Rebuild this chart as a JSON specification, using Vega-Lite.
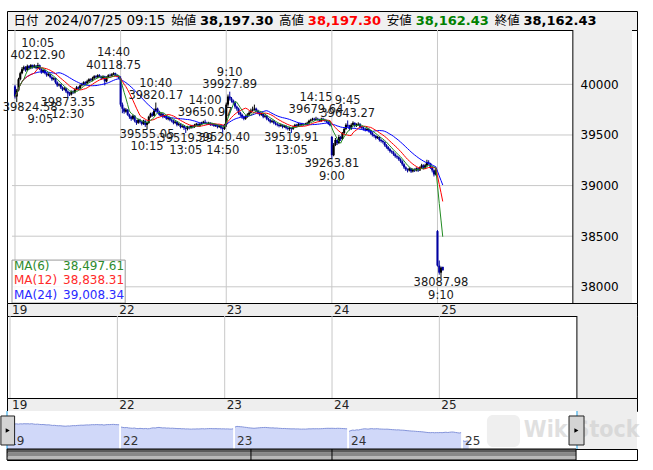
{
"$schema":"https://vega.github.io/schema/vega-lite/v6.json",
"background":"#ffffff",
"padding":{"left":0,"top":10,"right":0,"bottom":0},
"autosize":{"type":"pad"},
"bounds":"flush",
"spacing":0,
"config":{"view":{"stroke":"#000000","strokeWidth":1},"font":"DejaVu Sans"},
"resolve":{"scale":{"x":"independent","y":"independent","color":"independent"}},
"datasets":{
"one":[{"n":1}],
"levels":[{"g":38000},{"g":38500},{"g":39000},{"g":39500},{"g":40000}],
"days":[{"i":0,"d":"19"},{"i":60,"d":"22"},{"i":120,"d":"23"},{"i":180,"d":"24"},{"i":240,"d":"25"}],
"hdr":[{"k":"日付","v":"2024/07/25 09:15"},{"k":"始値","v":"38,197.30"},{"k":"高値","v":"38,197.30"},{"k":"安値","v":"38,162.43"},{"k":"終値","v":"38,162.43"}],
"leg":[{"k":"ma6","lab":"MA(6)","val":"38,497.61"},{"k":"ma12","lab":"MA(12)","val":"38,838.31"},{"k":"ma24","lab":"MA(24)","val":"39,008.34"}],
"ann":[
{"i":13,"v":40212.90,"t":"10:05","kind":"high"},
{"i":56,"v":40118.75,"t":"14:40","kind":"high"},
{"i":80,"v":39820.17,"t":"10:40","kind":"high"},
{"i":108,"v":39650.97,"t":"14:00","kind":"high"},
{"i":122,"v":39927.89,"t":"9:10","kind":"high"},
{"i":171,"v":39679.64,"t":"14:15","kind":"high"},
{"i":189,"v":39643.27,"t":"9:45","kind":"high"},
{"i":1,"v":39824.58,"t":"9:05","kind":"low"},
{"i":30,"v":39873.35,"t":"12:30","kind":"low"},
{"i":75,"v":39555.05,"t":"10:15","kind":"low"},
{"i":97,"v":39519.39,"t":"13:05","kind":"low"},
{"i":118,"v":39520.40,"t":"14:50","kind":"low"},
{"i":157,"v":39519.91,"t":"13:05","kind":"low"},
{"i":180,"v":39263.81,"t":"9:00","kind":"low"},
{"i":242,"v":38087.98,"t":"9:10","kind":"low"}],
"bars":[
{"i":0,"d":19,"o":39980,"h":39995,"l":39860,"c":39880},
{"i":1,"d":19,"o":39880,"h":39955,"l":39824.58,"c":39940},
{"i":2,"d":19,"o":39940,"h":40065,"l":39930,"c":40050},
{"i":3,"d":19,"o":40050,"h":40125,"l":40040,"c":40110},
{"i":4,"d":19,"o":40110,"h":40170,"l":40100,"c":40150},
{"i":5,"d":19,"o":40150,"h":40185,"l":40135,"c":40170},
{"i":6,"d":19,"o":40170,"h":40180,"l":40125,"c":40140},
{"i":7,"d":19,"o":40140,"h":40195,"l":40130,"c":40180},
{"i":8,"d":19,"o":40180,"h":40190,"l":40145,"c":40160},
{"i":9,"d":19,"o":40160,"h":40200,"l":40150,"c":40190},
{"i":10,"d":19,"o":40190,"h":40195,"l":40155,"c":40170},
{"i":11,"d":19,"o":40170,"h":40198,"l":40160,"c":40185},
{"i":12,"d":19,"o":40185,"h":40190,"l":40150,"c":40160},
{"i":13,"d":19,"o":40160,"h":40212.9,"l":40155,"c":40190},
{"i":14,"d":19,"o":40190,"h":40195,"l":40140,"c":40150},
{"i":15,"d":19,"o":40150,"h":40160,"l":40105,"c":40120},
{"i":16,"d":19,"o":40120,"h":40150,"l":40110,"c":40140},
{"i":17,"d":19,"o":40140,"h":40145,"l":40100,"c":40110},
{"i":18,"d":19,"o":40110,"h":40120,"l":40075,"c":40090},
{"i":19,"d":19,"o":40090,"h":40110,"l":40080,"c":40100},
{"i":20,"d":19,"o":40100,"h":40105,"l":40060,"c":40070},
{"i":21,"d":19,"o":40070,"h":40080,"l":40035,"c":40050},
{"i":22,"d":19,"o":40050,"h":40070,"l":40040,"c":40060},
{"i":23,"d":19,"o":40060,"h":40065,"l":40005,"c":40020},
{"i":24,"d":19,"o":40020,"h":40030,"l":39975,"c":39990},
{"i":25,"d":19,"o":39990,"h":40010,"l":39980,"c":40000},
{"i":26,"d":19,"o":40000,"h":40005,"l":39955,"c":39970},
{"i":27,"d":19,"o":39970,"h":39980,"l":39935,"c":39950},
{"i":28,"d":19,"o":39950,"h":39975,"l":39940,"c":39960},
{"i":29,"d":19,"o":39960,"h":39965,"l":39915,"c":39930},
{"i":30,"d":19,"o":39930,"h":39940,"l":39873.35,"c":39910},
{"i":31,"d":19,"o":39910,"h":39925,"l":39885,"c":39900},
{"i":32,"d":19,"o":39900,"h":39940,"l":39890,"c":39930},
{"i":33,"d":19,"o":39930,"h":39940,"l":39905,"c":39920},
{"i":34,"d":19,"o":39920,"h":39960,"l":39910,"c":39950},
{"i":35,"d":19,"o":39950,"h":39985,"l":39940,"c":39970},
{"i":36,"d":19,"o":39970,"h":39980,"l":39945,"c":39960},
{"i":37,"d":19,"o":39960,"h":40000,"l":39950,"c":39990},
{"i":38,"d":19,"o":39990,"h":40015,"l":39980,"c":40000},
{"i":39,"d":19,"o":40000,"h":40030,"l":39990,"c":40020},
{"i":40,"d":19,"o":40020,"h":40030,"l":39995,"c":40010},
{"i":41,"d":19,"o":40010,"h":40045,"l":40000,"c":40030},
{"i":42,"d":19,"o":40030,"h":40060,"l":40020,"c":40050},
{"i":43,"d":19,"o":40050,"h":40060,"l":40030,"c":40040},
{"i":44,"d":19,"o":40040,"h":40075,"l":40030,"c":40060},
{"i":45,"d":19,"o":40060,"h":40090,"l":40050,"c":40080},
{"i":46,"d":19,"o":40080,"h":40090,"l":40060,"c":40070},
{"i":47,"d":19,"o":40070,"h":40100,"l":40060,"c":40090},
{"i":48,"d":19,"o":40090,"h":40100,"l":40070,"c":40080},
{"i":49,"d":19,"o":40080,"h":40085,"l":40045,"c":40060},
{"i":50,"d":19,"o":40060,"h":40090,"l":40050,"c":40080},
{"i":51,"d":19,"o":40080,"h":40085,"l":39990,"c":40030},
{"i":52,"d":19,"o":40030,"h":40080,"l":40020,"c":40070},
{"i":53,"d":19,"o":40070,"h":40100,"l":40060,"c":40090},
{"i":54,"d":19,"o":40090,"h":40105,"l":40075,"c":40085},
{"i":55,"d":19,"o":40085,"h":40110,"l":40080,"c":40100},
{"i":56,"d":19,"o":40100,"h":40118.75,"l":40090,"c":40110},
{"i":57,"d":19,"o":40110,"h":40115,"l":40080,"c":40090},
{"i":58,"d":19,"o":40090,"h":40100,"l":40070,"c":40080},
{"i":59,"d":19,"o":40080,"h":40090,"l":40050,"c":40064},
{"i":60,"d":22,"o":40060,"h":40080,"l":39780,"c":39800},
{"i":61,"d":22,"o":39800,"h":39820,"l":39715,"c":39760},
{"i":62,"d":22,"o":39760,"h":39770,"l":39710,"c":39730},
{"i":63,"d":22,"o":39730,"h":39765,"l":39720,"c":39750},
{"i":64,"d":22,"o":39750,"h":39755,"l":39690,"c":39700},
{"i":65,"d":22,"o":39700,"h":39710,"l":39660,"c":39680},
{"i":66,"d":22,"o":39680,"h":39690,"l":39640,"c":39660},
{"i":67,"d":22,"o":39660,"h":39700,"l":39650,"c":39690},
{"i":68,"d":22,"o":39690,"h":39695,"l":39625,"c":39640},
{"i":69,"d":22,"o":39640,"h":39650,"l":39600,"c":39620},
{"i":70,"d":22,"o":39620,"h":39660,"l":39610,"c":39650},
{"i":71,"d":22,"o":39650,"h":39660,"l":39615,"c":39630},
{"i":72,"d":22,"o":39630,"h":39640,"l":39595,"c":39610},
{"i":73,"d":22,"o":39610,"h":39650,"l":39600,"c":39640},
{"i":74,"d":22,"o":39640,"h":39645,"l":39580,"c":39600},
{"i":75,"d":22,"o":39600,"h":39630,"l":39555.05,"c":39620},
{"i":76,"d":22,"o":39620,"h":39690,"l":39610,"c":39680},
{"i":77,"d":22,"o":39680,"h":39720,"l":39670,"c":39710},
{"i":78,"d":22,"o":39710,"h":39725,"l":39680,"c":39690},
{"i":79,"d":22,"o":39690,"h":39760,"l":39685,"c":39740},
{"i":80,"d":22,"o":39740,"h":39820.17,"l":39730,"c":39760},
{"i":81,"d":22,"o":39760,"h":39770,"l":39720,"c":39730},
{"i":82,"d":22,"o":39730,"h":39740,"l":39690,"c":39700},
{"i":83,"d":22,"o":39700,"h":39720,"l":39685,"c":39710},
{"i":84,"d":22,"o":39710,"h":39715,"l":39665,"c":39680},
{"i":85,"d":22,"o":39680,"h":39700,"l":39670,"c":39690},
{"i":86,"d":22,"o":39690,"h":39695,"l":39650,"c":39660},
{"i":87,"d":22,"o":39660,"h":39680,"l":39645,"c":39670},
{"i":88,"d":22,"o":39670,"h":39675,"l":39635,"c":39650},
{"i":89,"d":22,"o":39650,"h":39660,"l":39625,"c":39640},
{"i":90,"d":22,"o":39640,"h":39650,"l":39605,"c":39620},
{"i":91,"d":22,"o":39620,"h":39645,"l":39610,"c":39630},
{"i":92,"d":22,"o":39630,"h":39635,"l":39585,"c":39600},
{"i":93,"d":22,"o":39600,"h":39620,"l":39590,"c":39610},
{"i":94,"d":22,"o":39610,"h":39615,"l":39565,"c":39580},
{"i":95,"d":22,"o":39580,"h":39600,"l":39570,"c":39590},
{"i":96,"d":22,"o":39590,"h":39595,"l":39550,"c":39570},
{"i":97,"d":22,"o":39570,"h":39580,"l":39519.39,"c":39560},
{"i":98,"d":22,"o":39560,"h":39590,"l":39545,"c":39580},
{"i":99,"d":22,"o":39580,"h":39590,"l":39555,"c":39570},
{"i":100,"d":22,"o":39570,"h":39600,"l":39560,"c":39590},
{"i":101,"d":22,"o":39590,"h":39600,"l":39565,"c":39580},
{"i":102,"d":22,"o":39580,"h":39610,"l":39570,"c":39600},
{"i":103,"d":22,"o":39600,"h":39620,"l":39590,"c":39610},
{"i":104,"d":22,"o":39610,"h":39615,"l":39580,"c":39590},
{"i":105,"d":22,"o":39590,"h":39620,"l":39580,"c":39610},
{"i":106,"d":22,"o":39610,"h":39630,"l":39600,"c":39620},
{"i":107,"d":22,"o":39620,"h":39640,"l":39610,"c":39630},
{"i":108,"d":22,"o":39630,"h":39650.97,"l":39610,"c":39620},
{"i":109,"d":22,"o":39620,"h":39630,"l":39600,"c":39610},
{"i":110,"d":22,"o":39610,"h":39630,"l":39600,"c":39620},
{"i":111,"d":22,"o":39620,"h":39625,"l":39590,"c":39600},
{"i":112,"d":22,"o":39600,"h":39620,"l":39590,"c":39610},
{"i":113,"d":22,"o":39610,"h":39615,"l":39580,"c":39590},
{"i":114,"d":22,"o":39590,"h":39610,"l":39580,"c":39600},
{"i":115,"d":22,"o":39600,"h":39605,"l":39565,"c":39580},
{"i":116,"d":22,"o":39580,"h":39600,"l":39570,"c":39590},
{"i":117,"d":22,"o":39590,"h":39595,"l":39555,"c":39570},
{"i":118,"d":22,"o":39570,"h":39580,"l":39520.4,"c":39560},
{"i":119,"d":22,"o":39560,"h":39610,"l":39550,"c":39599},
{"i":120,"d":23,"o":39600,"h":39820,"l":39580,"c":39800},
{"i":121,"d":23,"o":39800,"h":39900,"l":39780,"c":39880},
{"i":122,"d":23,"o":39880,"h":39927.89,"l":39840,"c":39860},
{"i":123,"d":23,"o":39860,"h":39875,"l":39820,"c":39840},
{"i":124,"d":23,"o":39840,"h":39850,"l":39800,"c":39820},
{"i":125,"d":23,"o":39820,"h":39830,"l":39760,"c":39780},
{"i":126,"d":23,"o":39780,"h":39790,"l":39740,"c":39760},
{"i":127,"d":23,"o":39760,"h":39770,"l":39700,"c":39720},
{"i":128,"d":23,"o":39720,"h":39730,"l":39680,"c":39700},
{"i":129,"d":23,"o":39700,"h":39710,"l":39660,"c":39680},
{"i":130,"d":23,"o":39680,"h":39690,"l":39645,"c":39660},
{"i":131,"d":23,"o":39660,"h":39695,"l":39650,"c":39680},
{"i":132,"d":23,"o":39680,"h":39715,"l":39670,"c":39700},
{"i":133,"d":23,"o":39700,"h":39735,"l":39690,"c":39720},
{"i":134,"d":23,"o":39720,"h":39760,"l":39710,"c":39740},
{"i":135,"d":23,"o":39740,"h":39780,"l":39730,"c":39750},
{"i":136,"d":23,"o":39750,"h":39800,"l":39740,"c":39760},
{"i":137,"d":23,"o":39760,"h":39770,"l":39725,"c":39740},
{"i":138,"d":23,"o":39740,"h":39750,"l":39705,"c":39720},
{"i":139,"d":23,"o":39720,"h":39730,"l":39685,"c":39700},
{"i":140,"d":23,"o":39700,"h":39720,"l":39690,"c":39710},
{"i":141,"d":23,"o":39710,"h":39715,"l":39665,"c":39680},
{"i":142,"d":23,"o":39680,"h":39700,"l":39670,"c":39690},
{"i":143,"d":23,"o":39690,"h":39695,"l":39645,"c":39660},
{"i":144,"d":23,"o":39660,"h":39670,"l":39635,"c":39650},
{"i":145,"d":23,"o":39650,"h":39660,"l":39615,"c":39630},
{"i":146,"d":23,"o":39630,"h":39650,"l":39620,"c":39640},
{"i":147,"d":23,"o":39640,"h":39645,"l":39605,"c":39620},
{"i":148,"d":23,"o":39620,"h":39630,"l":39595,"c":39610},
{"i":149,"d":23,"o":39610,"h":39620,"l":39585,"c":39600},
{"i":150,"d":23,"o":39600,"h":39610,"l":39575,"c":39590},
{"i":151,"d":23,"o":39590,"h":39610,"l":39580,"c":39600},
{"i":152,"d":23,"o":39600,"h":39605,"l":39565,"c":39580},
{"i":153,"d":23,"o":39580,"h":39600,"l":39570,"c":39590},
{"i":154,"d":23,"o":39590,"h":39595,"l":39555,"c":39570},
{"i":155,"d":23,"o":39570,"h":39580,"l":39545,"c":39560},
{"i":156,"d":23,"o":39560,"h":39580,"l":39540,"c":39570},
{"i":157,"d":23,"o":39570,"h":39575,"l":39519.91,"c":39560},
{"i":158,"d":23,"o":39560,"h":39590,"l":39550,"c":39580},
{"i":159,"d":23,"o":39580,"h":39610,"l":39570,"c":39600},
{"i":160,"d":23,"o":39600,"h":39610,"l":39575,"c":39590},
{"i":161,"d":23,"o":39590,"h":39620,"l":39580,"c":39610},
{"i":162,"d":23,"o":39610,"h":39620,"l":39590,"c":39600},
{"i":163,"d":23,"o":39600,"h":39620,"l":39590,"c":39610},
{"i":164,"d":23,"o":39610,"h":39615,"l":39590,"c":39600},
{"i":165,"d":23,"o":39600,"h":39620,"l":39595,"c":39610},
{"i":166,"d":23,"o":39610,"h":39630,"l":39600,"c":39620},
{"i":167,"d":23,"o":39620,"h":39650,"l":39610,"c":39640},
{"i":168,"d":23,"o":39640,"h":39660,"l":39630,"c":39650},
{"i":169,"d":23,"o":39650,"h":39670,"l":39640,"c":39660},
{"i":170,"d":23,"o":39660,"h":39670,"l":39640,"c":39650},
{"i":171,"d":23,"o":39650,"h":39679.64,"l":39645,"c":39660},
{"i":172,"d":23,"o":39660,"h":39670,"l":39640,"c":39650},
{"i":173,"d":23,"o":39650,"h":39660,"l":39630,"c":39640},
{"i":174,"d":23,"o":39640,"h":39670,"l":39630,"c":39660},
{"i":175,"d":23,"o":39660,"h":39670,"l":39640,"c":39650},
{"i":176,"d":23,"o":39650,"h":39660,"l":39630,"c":39640},
{"i":177,"d":23,"o":39640,"h":39650,"l":39620,"c":39630},
{"i":178,"d":23,"o":39630,"h":39640,"l":39600,"c":39610},
{"i":179,"d":23,"o":39610,"h":39620,"l":39585,"c":39594},
{"i":180,"d":24,"o":39480,"h":39490,"l":39263.81,"c":39300},
{"i":181,"d":24,"o":39300,"h":39420,"l":39290,"c":39400},
{"i":182,"d":24,"o":39400,"h":39470,"l":39390,"c":39450},
{"i":183,"d":24,"o":39450,"h":39460,"l":39400,"c":39420},
{"i":184,"d":24,"o":39420,"h":39500,"l":39410,"c":39480},
{"i":185,"d":24,"o":39480,"h":39490,"l":39440,"c":39460},
{"i":186,"d":24,"o":39460,"h":39530,"l":39450,"c":39520},
{"i":187,"d":24,"o":39520,"h":39575,"l":39510,"c":39560},
{"i":188,"d":24,"o":39560,"h":39615,"l":39550,"c":39600},
{"i":189,"d":24,"o":39600,"h":39643.27,"l":39575,"c":39590},
{"i":190,"d":24,"o":39590,"h":39600,"l":39545,"c":39560},
{"i":191,"d":24,"o":39560,"h":39615,"l":39550,"c":39600},
{"i":192,"d":24,"o":39600,"h":39635,"l":39590,"c":39620},
{"i":193,"d":24,"o":39620,"h":39625,"l":39575,"c":39590},
{"i":194,"d":24,"o":39590,"h":39615,"l":39580,"c":39600},
{"i":195,"d":24,"o":39600,"h":39625,"l":39590,"c":39610},
{"i":196,"d":24,"o":39610,"h":39615,"l":39565,"c":39580},
{"i":197,"d":24,"o":39580,"h":39590,"l":39555,"c":39570},
{"i":198,"d":24,"o":39570,"h":39580,"l":39545,"c":39560},
{"i":199,"d":24,"o":39560,"h":39570,"l":39535,"c":39550},
{"i":200,"d":24,"o":39550,"h":39570,"l":39540,"c":39560},
{"i":201,"d":24,"o":39560,"h":39565,"l":39525,"c":39540},
{"i":202,"d":24,"o":39540,"h":39550,"l":39505,"c":39520},
{"i":203,"d":24,"o":39520,"h":39530,"l":39485,"c":39500},
{"i":204,"d":24,"o":39500,"h":39510,"l":39475,"c":39490},
{"i":205,"d":24,"o":39490,"h":39500,"l":39455,"c":39470},
{"i":206,"d":24,"o":39470,"h":39490,"l":39460,"c":39480},
{"i":207,"d":24,"o":39480,"h":39485,"l":39435,"c":39450},
{"i":208,"d":24,"o":39450,"h":39460,"l":39425,"c":39440},
{"i":209,"d":24,"o":39440,"h":39450,"l":39415,"c":39430},
{"i":210,"d":24,"o":39430,"h":39435,"l":39385,"c":39400},
{"i":211,"d":24,"o":39400,"h":39410,"l":39365,"c":39380},
{"i":212,"d":24,"o":39380,"h":39390,"l":39345,"c":39360},
{"i":213,"d":24,"o":39360,"h":39370,"l":39325,"c":39340},
{"i":214,"d":24,"o":39340,"h":39350,"l":39315,"c":39330},
{"i":215,"d":24,"o":39330,"h":39340,"l":39295,"c":39310},
{"i":216,"d":24,"o":39310,"h":39320,"l":39275,"c":39290},
{"i":217,"d":24,"o":39290,"h":39300,"l":39265,"c":39280},
{"i":218,"d":24,"o":39280,"h":39290,"l":39245,"c":39260},
{"i":219,"d":24,"o":39260,"h":39270,"l":39225,"c":39240},
{"i":220,"d":24,"o":39240,"h":39250,"l":39195,"c":39210},
{"i":221,"d":24,"o":39210,"h":39220,"l":39165,"c":39180},
{"i":222,"d":24,"o":39180,"h":39190,"l":39145,"c":39160},
{"i":223,"d":24,"o":39160,"h":39170,"l":39130,"c":39150},
{"i":224,"d":24,"o":39150,"h":39180,"l":39140,"c":39170},
{"i":225,"d":24,"o":39170,"h":39175,"l":39125,"c":39140},
{"i":226,"d":24,"o":39140,"h":39170,"l":39130,"c":39160},
{"i":227,"d":24,"o":39160,"h":39170,"l":39135,"c":39150},
{"i":228,"d":24,"o":39150,"h":39180,"l":39140,"c":39170},
{"i":229,"d":24,"o":39170,"h":39175,"l":39135,"c":39150},
{"i":230,"d":24,"o":39150,"h":39190,"l":39145,"c":39180},
{"i":231,"d":24,"o":39180,"h":39215,"l":39170,"c":39200},
{"i":232,"d":24,"o":39200,"h":39210,"l":39160,"c":39170},
{"i":233,"d":24,"o":39170,"h":39215,"l":39165,"c":39200},
{"i":234,"d":24,"o":39200,"h":39255,"l":39190,"c":39230},
{"i":235,"d":24,"o":39230,"h":39250,"l":39205,"c":39220},
{"i":236,"d":24,"o":39220,"h":39225,"l":39165,"c":39180},
{"i":237,"d":24,"o":39180,"h":39190,"l":39130,"c":39150},
{"i":238,"d":24,"o":39150,"h":39160,"l":39090,"c":39110},
{"i":239,"d":24,"o":39110,"h":39165,"l":39100,"c":39155},
{"i":240,"d":25,"o":38550,"h":38560,"l":38200,"c":38210},
{"i":241,"d":25,"o":38210,"h":38260,"l":38120,"c":38140},
{"i":242,"d":25,"o":38140,"h":38200,"l":38087.98,"c":38190},
{"i":243,"d":25,"o":38197.3,"h":38197.3,"l":38162.43,"c":38162.43}
]},
"vconcat":[
{"width":630,"height":19,"view":{"fill":"#f0f0f0","stroke":"#000000"},
 "data":{"name":"hdr"},
 "encoding":{"x":{"field":"k","type":"nominal","scale":{"type":"point","domain":["日付","始値","高値","安値","終値"],"padding":0.922,"align":0.797},"axis":null}},
 "layer":[
  {"transform":[{"filter":"datum.k=='始値' || datum.k=='終値'"}],"mark":{"type":"text","align":"right","baseline":"middle","fontSize":13,"fontWeight":"bold","font":"DejaVu Sans","color":"#000000"},"encoding":{"text":{"field":"v"}}},
  {"transform":[{"filter":"datum.k=='高値'"}],"mark":{"type":"text","align":"right","baseline":"middle","fontSize":13,"fontWeight":"bold","font":"DejaVu Sans","color":"#ff0000"},"encoding":{"text":{"field":"v"}}},
  {"transform":[{"filter":"datum.k=='安値'"}],"mark":{"type":"text","align":"right","baseline":"middle","fontSize":13,"fontWeight":"bold","font":"DejaVu Sans","color":"#008000"},"encoding":{"text":{"field":"v"}}},
  {"transform":[{"filter":"datum.k=='日付'"}],"mark":{"type":"text","align":"right","baseline":"middle","fontSize":13.5,"font":"DejaVu Sans","color":"#000000"},"encoding":{"text":{"field":"v"}}},
  {"transform":[{"filter":"datum.k!='日付'"}],"mark":{"type":"text","align":"right","baseline":"middle","dx":-77,"fontSize":12.5,"font":"DejaVu Sans, Noto Sans CJK JP","color":"#000000"},"encoding":{"text":{"field":"k"}}},
  {"transform":[{"filter":"datum.k=='日付'"}],"mark":{"type":"text","align":"right","baseline":"middle","dx":-127,"fontSize":12.5,"font":"DejaVu Sans, Noto Sans CJK JP","color":"#000000"},"encoding":{"text":{"field":"k"}}}
 ]},
{"width":630,"height":273,"view":{"fill":"#ffffff","stroke":"#000000"},
 "layer":[
  {"data":{"name":"one"},"mark":{"type":"rule","color":"#ffffff","strokeWidth":1},"encoding":{"x":{"datum":-7.01,"scale":{"domain":[-1.7,350.5],"nice":false,"zero":false},"axis":null}}},
  {"data":{"name":"days"},"mark":{"type":"rule","color":"#c8c8c8","strokeWidth":1},
   "encoding":{"x":{"field":"i","type":"quantitative"}}},
  {"data":{"name":"levels"},"mark":{"type":"rule","color":"#c8c8c8","strokeWidth":1},
   "encoding":{"y":{"field":"g","type":"quantitative","scale":{"domain":[37840,40537],"nice":false,"zero":false},
     "axis":{"orient":"right","offset":-60,"values":[38000,38500,39000,39500,40000],"format":"d","title":null,"domain":false,"ticks":false,"grid":false,"labelPadding":3,"labelFontSize":12,"labelFont":"DejaVu Sans","labelColor":"#000000","labelAlign":"left","labelBaseline":"middle","zindex":2}},
    "x":{"datum":-1.7},"x2":{"datum":316.9}}},
  {"data":{"name":"one"},"mark":{"type":"rect","color":"#eeeeee"},
   "encoding":{"x":{"datum":316.9},"x2":{"datum":350.5},"y":{"datum":40537},"y2":{"datum":37840}}},
  {"data":{"name":"one"},"mark":{"type":"rule","color":"#000000","strokeWidth":1},"encoding":{"x":{"datum":316.9}}},
  {"data":{"name":"bars"},"mark":{"type":"rule","strokeWidth":1},
   "encoding":{"x":{"field":"i","type":"quantitative"},"y":{"field":"l","type":"quantitative"},"y2":{"field":"h"},
    "color":{"condition":{"test":"datum.c<datum.o","value":"#0000a0"},"value":"#000000"}}},
  {"data":{"name":"bars"},"mark":{"type":"bar","size":2.1},
   "encoding":{"x":{"field":"i","type":"quantitative"},"y":{"field":"o","type":"quantitative"},"y2":{"field":"c"},
    "color":{"condition":{"test":"datum.c<datum.o","value":"#0000a0"},"value":"#000000"}}},
  {"data":{"name":"bars"},
   "transform":[
    {"window":[{"op":"mean","field":"c","as":"ma6"}],"frame":[-5,0],"sort":[{"field":"i"}]},
    {"window":[{"op":"mean","field":"c","as":"ma12"}],"frame":[-11,0],"sort":[{"field":"i"}]},
    {"window":[{"op":"mean","field":"c","as":"ma24"}],"frame":[-23,0],"sort":[{"field":"i"}]},
    {"fold":["ma24","ma12","ma6"],"as":["k","m"]}],
   "mark":{"type":"line","strokeWidth":1},
   "encoding":{"x":{"field":"i","type":"quantitative"},"y":{"field":"m","type":"quantitative"},
    "color":{"field":"k","type":"nominal","scale":{"domain":["ma6","ma12","ma24"],"range":["#228b22","#ff0000","#0000ff"]},"legend":null}}},
  {"data":{"name":"ann"},"transform":[{"filter":"datum.kind=='high'"}],"mark":{"type":"text","baseline":"alphabetic","dy":-3.5,"fontSize":11.5,"font":"DejaVu Sans","color":"#1a1a1a"},
   "encoding":{"x":{"field":"i","type":"quantitative"},"y":{"field":"v","type":"quantitative"},"text":{"field":"v","type":"quantitative","format":".2f"}}},
  {"data":{"name":"ann"},"transform":[{"filter":"datum.kind=='high'"}],"mark":{"type":"text","baseline":"alphabetic","dy":-16,"fontSize":11.5,"font":"DejaVu Sans","color":"#1a1a1a"},
   "encoding":{"x":{"field":"i","type":"quantitative"},"y":{"field":"v","type":"quantitative"},"text":{"field":"t"}}},
  {"data":{"name":"ann"},"transform":[{"filter":"datum.kind=='low' && datum.i>=5"}],"mark":{"type":"text","baseline":"alphabetic","dy":8.5,"fontSize":11.5,"font":"DejaVu Sans","color":"#1a1a1a"},
   "encoding":{"x":{"field":"i","type":"quantitative"},"y":{"field":"v","type":"quantitative"},"text":{"field":"v","type":"quantitative","format":".2f"}}},
  {"data":{"name":"ann"},"transform":[{"filter":"datum.kind=='low' && datum.i>=5"}],"mark":{"type":"text","baseline":"alphabetic","dy":21,"fontSize":11.5,"font":"DejaVu Sans","color":"#1a1a1a"},
   "encoding":{"x":{"field":"i","type":"quantitative"},"y":{"field":"v","type":"quantitative"},"text":{"field":"t"}}},
  {"data":{"name":"ann"},"transform":[{"filter":"datum.kind=='low' && datum.i<5"}],"mark":{"type":"text","baseline":"alphabetic","dx":13.4,"dy":8.5,"fontSize":11.5,"font":"DejaVu Sans","color":"#1a1a1a"},
   "encoding":{"x":{"field":"i","type":"quantitative"},"y":{"field":"v","type":"quantitative"},"text":{"field":"v","type":"quantitative","format":".2f"}}},
  {"data":{"name":"ann"},"transform":[{"filter":"datum.kind=='low' && datum.i<5"}],"mark":{"type":"text","baseline":"alphabetic","dx":23.7,"dy":21,"fontSize":11.5,"font":"DejaVu Sans","color":"#1a1a1a"},
   "encoding":{"x":{"field":"i","type":"quantitative"},"y":{"field":"v","type":"quantitative"},"text":{"field":"t"}}},
  {"data":{"name":"one"},"mark":{"type":"rect","fill":"#ffffff","fillOpacity":0.85,"stroke":"#9a9a9a","strokeWidth":1},
   "encoding":{"x":{"datum":-1.7},"x2":{"datum":62.6},"y":{"datum":37840},"y2":{"datum":38264}}},
  {"data":{"name":"leg"},"transform":[{"filter":"datum.k=='ma6'"}],"mark":{"type":"text","align":"left","baseline":"middle","fontSize":12,"font":"DejaVu Sans","color":"#2e8b2e"},
   "encoding":{"x":{"datum":-0.58},"y":{"datum":38205},"text":{"field":"lab"}}},
  {"data":{"name":"leg"},"transform":[{"filter":"datum.k=='ma6'"}],"mark":{"type":"text","align":"right","baseline":"middle","fontSize":12,"font":"DejaVu Sans","color":"#2e8b2e"},
   "encoding":{"x":{"datum":62},"y":{"datum":38205},"text":{"field":"val"}}},
  {"data":{"name":"leg"},"transform":[{"filter":"datum.k=='ma12'"}],"mark":{"type":"text","align":"left","baseline":"middle","fontSize":12,"font":"DejaVu Sans","color":"#ff2a2a"},
   "encoding":{"x":{"datum":-0.58},"y":{"datum":38066},"text":{"field":"lab"}}},
  {"data":{"name":"leg"},"transform":[{"filter":"datum.k=='ma12'"}],"mark":{"type":"text","align":"right","baseline":"middle","fontSize":12,"font":"DejaVu Sans","color":"#ff2a2a"},
   "encoding":{"x":{"datum":62},"y":{"datum":38066},"text":{"field":"val"}}},
  {"data":{"name":"leg"},"transform":[{"filter":"datum.k=='ma24'"}],"mark":{"type":"text","align":"left","baseline":"middle","fontSize":12,"font":"DejaVu Sans","color":"#2a2aff"},
   "encoding":{"x":{"datum":-0.58},"y":{"datum":37918},"text":{"field":"lab"}}},
  {"data":{"name":"leg"},"transform":[{"filter":"datum.k=='ma24'"}],"mark":{"type":"text","align":"right","baseline":"middle","fontSize":12,"font":"DejaVu Sans","color":"#2a2aff"},
   "encoding":{"x":{"datum":62},"y":{"datum":37918},"text":{"field":"val"}}}
 ]},
{"width":630,"height":13,"view":{"fill":"#eeeeee","stroke":"#000000"},"data":{"name":"days"},
 "mark":{"type":"text","align":"left","baseline":"middle","dx":2,"fontSize":12,"font":"DejaVu Sans","color":"#222222"},
 "encoding":{"x":{"field":"i","type":"quantitative","scale":{"domain":[-1.7,350.5],"nice":false,"zero":false},"axis":null},"text":{"field":"d"}}},
{"width":630,"height":82,"view":{"fill":"#ffffff","stroke":"#000000"},
 "layer":[
  {"data":{"name":"days"},"mark":{"type":"rule","color":"#c8c8c8"},"encoding":{"x":{"field":"i","type":"quantitative","scale":{"domain":[-1.7,350.5],"nice":false,"zero":false},"axis":null}}},
  {"data":{"name":"one"},"mark":{"type":"rect","color":"#eeeeee"},"encoding":{"x":{"datum":316.9},"x2":{"datum":350.5},"y":{"datum":0,"scale":{"domain":[0,1]},"axis":null},"y2":{"datum":1}}},
  {"data":{"name":"one"},"mark":{"type":"rule","color":"#000000"},"encoding":{"x":{"datum":316.9}}}
 ]},
{"width":630,"height":13,"view":{"fill":"#eeeeee","stroke":"#000000"},"data":{"name":"days"},
 "mark":{"type":"text","align":"left","baseline":"middle","dx":2,"fontSize":12,"font":"DejaVu Sans","color":"#222222"},
 "encoding":{"x":{"field":"i","type":"quantitative","scale":{"domain":[-1.7,350.5],"nice":false,"zero":false},"axis":null},"text":{"field":"d"}}},
{"width":630,"height":38,"view":{"fill":"#ffffff","stroke":null},
 "layer":[
  {"data":{"name":"one"},"mark":{"type":"rect","color":"#eeeeee"},
   "encoding":{"x":{"datum":300,"scale":{"domain":[0,331.58],"nice":false,"zero":false},"axis":null},"x2":{"datum":331.58},
    "y":{"datum":37265,"scale":{"domain":[37265,41658],"nice":false,"zero":false},"axis":null},"y2":{"datum":41658}}},
  {"data":{"name":"bars"},"mark":{"type":"area","color":"#bcc8f6","line":{"color":"#8494da","strokeWidth":1}},
   "encoding":{"x":{"field":"i","type":"quantitative"},"y":{"field":"c","type":"quantitative"},"y2":{"datum":37265},"detail":{"field":"d","type":"nominal"}}},
  {"data":{"name":"days"},"mark":{"type":"text","align":"left","baseline":"bottom","dx":2,"dy":-1,"fontSize":12,"font":"DejaVu Sans","color":"#333333"},
   "encoding":{"x":{"field":"i","type":"quantitative"},"y":{"datum":37265},"text":{"field":"d"}}},
  {"data":{"name":"one"},"mark":{"type":"rect","cornerRadius":6,"fill":"#d0d0d0","opacity":0.35},
   "encoding":{"x":{"datum":252.6},"x2":{"datum":270},"y":{"datum":37496},"y2":{"datum":41196}}},
  {"data":{"name":"one"},"mark":{"type":"text","text":"WikiStock","align":"left","baseline":"middle","fontSize":23,"fontWeight":"bold","font":"DejaVu Sans Condensed, DejaVu Sans","color":"#c8c8c8","opacity":0.55},
   "encoding":{"x":{"datum":272},"y":{"datum":39404}}},
  {"data":{"name":"one"},"mark":{"type":"rule","color":"#1ea0e6","strokeWidth":1},"encoding":{"x":{"datum":0}}},
  {"data":{"name":"one"},"mark":{"type":"rule","color":"#1ea0e6","strokeWidth":1},"encoding":{"x":{"datum":300}}},
  {"data":{"name":"one"},"mark":{"type":"rect","stroke":"#222222","strokeWidth":1,"fill":"#d4d4d4"},
   "encoding":{"x":{"datum":-3.2},"x2":{"datum":4},"y":{"datum":37728},"y2":{"datum":41080}}},
  {"data":{"name":"one"},"mark":{"type":"rect","stroke":"#222222","strokeWidth":1,"fill":"#d4d4d4"},
   "encoding":{"x":{"datum":295.8},"x2":{"datum":303.7},"y":{"datum":37728},"y2":{"datum":41080}}},
  {"data":{"name":"one"},"mark":{"type":"point","shape":"triangle-right","filled":true,"size":22,"color":"#000000","opacity":1},"encoding":{"x":{"datum":0.39},"y":{"datum":39404}}},
  {"data":{"name":"one"},"mark":{"type":"point","shape":"triangle-right","filled":true,"size":22,"color":"#000000","opacity":1},"encoding":{"x":{"datum":299.7},"y":{"datum":39404}}}
 ]},
{"width":630,"height":11,"view":{"fill":"#ffffff","stroke":"#000000"},
 "layer":[
  {"data":{"name":"one"},"mark":{"type":"rect","fill":"#b8b8b8","strokeWidth":0},
   "encoding":{"x":{"datum":0,"scale":{"domain":[0,331.58],"nice":false,"zero":false},"axis":null},"x2":{"datum":299.5},"y":{"datum":0,"scale":{"domain":[0,1]},"axis":null},"y2":{"datum":0.35}}},
  {"data":{"name":"one"},"mark":{"type":"rect","fill":"#888888","strokeWidth":0},
   "encoding":{"x":{"datum":0},"x2":{"datum":299.5},"y":{"datum":0.35},"y2":{"datum":0.68}}},
  {"data":{"name":"one"},"mark":{"type":"rect","fill":"#5a5a5a","strokeWidth":0},
   "encoding":{"x":{"datum":0},"x2":{"datum":299.5},"y":{"datum":0.68},"y2":{"datum":1}}},
  {"data":{"name":"one"},"mark":{"type":"rect","fill":null,"fillOpacity":0,"stroke":"#000000","strokeWidth":1},
   "encoding":{"x":{"datum":0},"x2":{"datum":299.5},"y":{"datum":0},"y2":{"datum":1}}},
  {"data":{"name":"one"},"mark":{"type":"rule","color":"#000000"},"encoding":{"x":{"datum":128.4}}},
  {"data":{"name":"one"},"mark":{"type":"rule","color":"#000000"},"encoding":{"x":{"datum":171.05}}}
 ]}
]
}
